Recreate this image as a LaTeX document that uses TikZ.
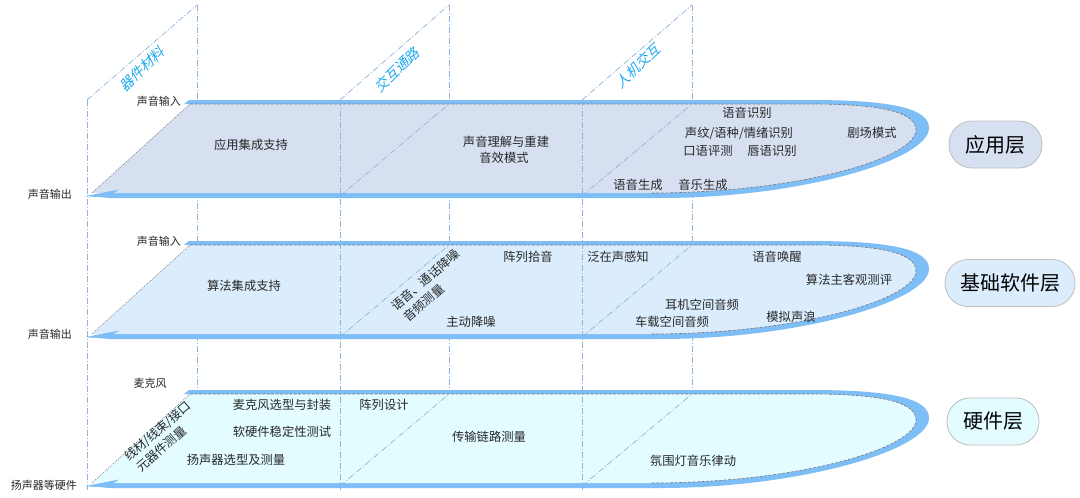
\documentclass[tikz,border=0pt]{standalone}
\usepackage{fontspec}
\setmainfont{Noto Sans CJK SC}
\newfontfamily\slantcjk{Noto Sans CJK SC}[FakeSlant=0.25]
\definecolor{bandcol}{RGB}{125,190,246}
\definecolor{fillA}{RGB}{214,224,241}
\definecolor{fillB}{RGB}{219,237,253}
\definecolor{fillC}{RGB}{226,252,255}
\definecolor{guidecol}{RGB}{140,180,222}
\definecolor{txtcol}{RGB}{40,40,40}
\definecolor{cyanlbl}{RGB}{30,170,240}
\definecolor{pillborder}{RGB}{190,190,190}
\definecolor{edgecol}{RGB}{120,120,130}
\tikzset{
  guide/.style={draw=guidecol, line width=0.7pt, dash pattern=on 6pt off 2pt on 1pt off 2pt},
  innerdash/.style={draw=edgecol, line width=0.6pt, dash pattern=on 3pt off 1.5pt},
  slantdot/.style={draw=edgecol, line width=0.6pt, dash pattern=on 1pt off 1.2pt},
  lbl/.style={text=txtcol, font=\fontsize{12.3}{14}\selectfont, inner sep=0pt},
  side/.style={text=txtcol, font=\fontsize{11}{13}\selectfont, inner sep=0pt},
  toplbl/.style={text=cyanlbl, font=\slantcjk\fontsize{14}{16}\selectfont, inner sep=0pt, rotate=44},
  rotlbl/.style={text=txtcol, font=\fontsize{12.3}{16}\selectfont, inner sep=0pt, rotate=41, anchor=north west, align=left},
  pill/.style={draw=pillborder, line width=0.8pt, rounded corners=23pt, minimum height=47pt, inner sep=0pt, text=black, font=\fontsize{20}{22}\selectfont}
}
\newcommand\mylayer[2]{%
\begin{scope}[shift={(0,#1)}]
\fill[bandcol] (184,104) -- (189,100) -- (810,100) .. controls (890,100) and (929,108) .. (929,128) .. controls (929,160) and (800,198) .. (660,198) -- (110,198) -- (86,196) -- (113,193) -- (190,104) -- cycle;
\fill[#2] (190,104) -- (810,104) .. controls (885,104) and (916,113) .. (916,130) .. controls (916,158) and (800,193) .. (650,193) -- (92,193) -- cycle;
\draw[innerdash] (190,104) -- (810,104) .. controls (885,104) and (916,113) .. (916,130) .. controls (916,158) and (800,193) .. (650,193);
\draw[slantdot] (92,193) -- (190,104);
\fill[bandcol] (86,196) -- (119,189.5) -- (113,193.5) -- (100,197) -- cycle;
\end{scope}}
\begin{document}
\begin{tikzpicture}[x=1pt,y=-1pt]
\useasboundingbox (0,0) rectangle (1080,498);
\fill[white] (0,0) rectangle (1080,498);
% back verticals
\foreach \x in {197,449,692} \draw[guide] (\x,5) -- (\x,390);
% top slants
\draw[guide] (87,100) -- (197,5);
\draw[guide] (340,100) -- (449,5);
\draw[guide] (582,100) -- (692,5);
% layers
\mylayer{0}{fillA}
\mylayer{141}{fillB}
\mylayer{290}{fillC}
% front verticals
\foreach \x in {87,340,582} \draw[guide] (\x,100) -- (\x,490);
% in-layer slants
\foreach \s in {0,141,290} {
  \draw[guide] (340,196+\s) -- (449,104+\s);
  \draw[guide] (582,196+\s) -- (692,104+\s);
}
% top labels
\node[toplbl] (qj) at (142,69) {器件材料};
\node[toplbl] (jh) at (397,70) {交互通路};
\node[toplbl] (rj) at (638,66) {人机交互};
% layer 1
\node[side, anchor=east] (in1) at (181,101) {声音输入};
\node[side, anchor=east] (out1) at (72,194) {声音输出};
\node[lbl] (a1) at (251,145) {应用集成支持};
\node[lbl] (a2) at (506,142) {声音理解与重建};
\node[lbl] (a3) at (504,158) {音效模式};
\node[lbl] (a4) at (747,113) {语音识别};
\node[lbl] (a5) at (739,133) {声纹/语种/情绪识别};
\node[lbl] (a6) at (708,151) {口语评测};
\node[lbl] (a7) at (772,151) {唇语识别};
\node[lbl] (a8) at (872,133) {剧场模式};
\node[lbl] (a9) at (638,185) {语音生成};
\node[lbl] (a10) at (703,185) {音乐生成};
\node[pill, fill=fillA, minimum width=93pt] (p1) at (995.5,144.5) {应用层};
% layer 2
\node[side, anchor=east] (in2) at (181,241) {声音输入};
\node[side, anchor=east] (out2) at (72,334) {声音输出};
\node[lbl] (b1) at (244,286) {算法集成支持};
\node[rotlbl] (b2) at (389,304) {语音、通话降噪\\\,音频测量};
\node[lbl] (b4) at (528,257) {阵列拾音};
\node[lbl] (b5) at (618,257) {泛在声感知};
\node[lbl] (b6) at (777,257) {语音唤醒};
\node[lbl] (b7) at (849,280) {算法主客观测评};
\node[lbl] (b8) at (702,305) {耳机空间音频};
\node[lbl] (b9) at (672,322) {车载空间音频};
\node[lbl] (b10) at (791,317) {模拟声浪};
\node[lbl] (b11) at (471,322) {主动降噪};
\node[pill, fill=fillB, minimum width=130pt] (p2) at (1010,283) {基础软件层};
% layer 3
\node[side] (c0) at (150,383) {麦克风};
\node[lbl] (c1) at (282,405) {麦克风选型与封装};
\node[lbl] (c2) at (384,405) {阵列设计};
\node[lbl] (c3) at (282,432) {软硬件稳定性测试};
\node[lbl] (c4) at (236,460) {扬声器选型及测量};
\node[rotlbl] (c5) at (122,454) {线材/线束/接口\\\,元器件测量};
\node[side, anchor=east] (c7) at (77,485) {扬声器等硬件};
\node[lbl] (c8) at (489,437) {传输链路测量};
\node[lbl] (c9) at (693,461) {氛围灯音乐律动};
\node[pill, fill=fillC, minimum width=92pt] (p3) at (993,421.5) {硬件层};
\end{tikzpicture}
\end{document}
